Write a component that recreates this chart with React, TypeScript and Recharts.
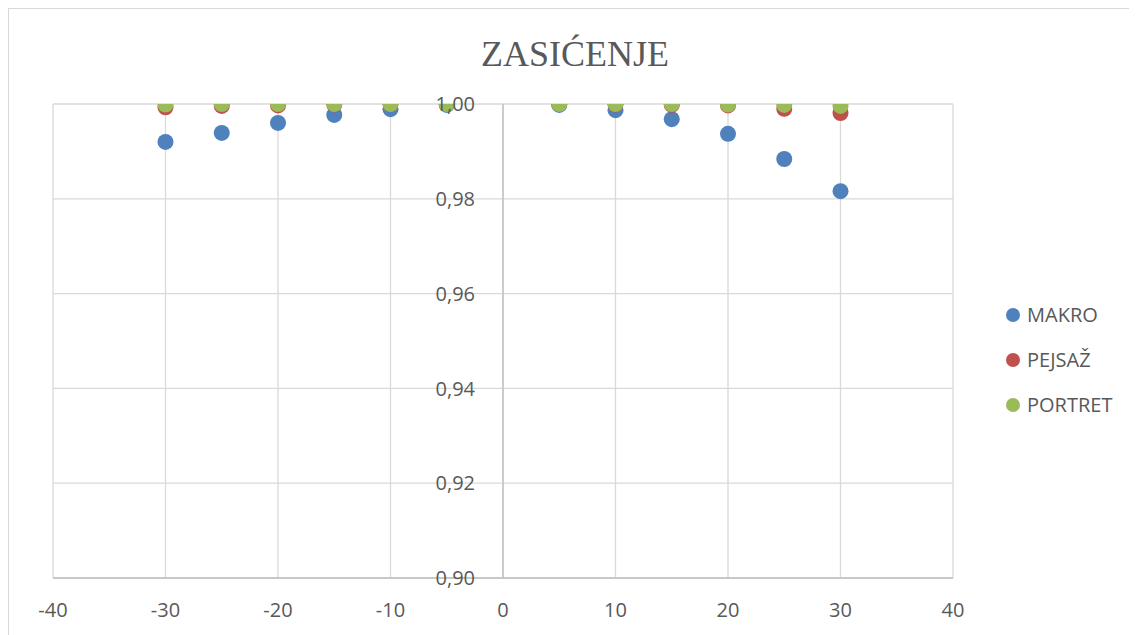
import { ScatterChart, Scatter, XAxis, YAxis, CartesianGrid, ReferenceLine } from "recharts";

const xValues = [-30, -25, -20, -15, -10, -5, 5, 10, 15, 20, 25, 30];
const makro = [0.992, 0.9939, 0.996, 0.9977, 0.9989, 0.9998, 0.9998, 0.9987, 0.9968, 0.9937, 0.9884, 0.9816];
const pejsaz = [0.9993, 0.9996, 0.9997, 0.9999, 1.0, 1.0, 1.0, 0.9999, 0.9998, 0.9997, 0.999, 0.9981];
const portret = [0.9999, 1.0, 1.0, 1.0, 1.0, 1.0, 1.0, 1.0, 1.0, 0.9999, 0.9998, 0.9996];
const xTicks = [-40, -30, -20, -10, 0, 10, 20, 30, 40];
const yTicks = [0.9, 0.92, 0.94, 0.96, 0.98, 1.0];

const series = [
  { name: "MAKRO", values: makro, color: "#4f81bd" },
  { name: "PEJSAŽ", values: pejsaz, color: "#c0504d" },
  { name: "PORTRET", values: portret, color: "#9bbb59" },
];

const FONT = "'Open Sans', sans-serif";
const TEXT = "#595959";
const PLOT_W = 900;

function YTick(props: any) {
  const { x, y, payload } = props;
  return (
    <text x={x + PLOT_W / 2 - 20} y={y} dy="0.36em" textAnchor="end" fontSize={20} fill={TEXT} fontFamily={FONT}>
      {payload.value.toFixed(2).replace(".", ",")}
    </text>
  );
}

function Dot(props: any) {
  const { cx, cy, fill } = props;
  return <circle cx={cx} cy={cy} r={8} fill={fill} />;
}

// legend kept outside the chart so Recharts doesn't reserve space for it
function ChartLegend() {
  return (
    <div style={{ position: "absolute", left: 997, top: 283, fontFamily: FONT, fontSize: 20, color: TEXT }}>
      {series.map((s) => (
        <div key={s.name} style={{ display: "flex", alignItems: "center", height: 45 }}>
          <span style={{ width: 14, height: 14, borderRadius: 7, background: s.color, marginRight: 7, display: "inline-block" }} />
          {s.name}
        </div>
      ))}
    </div>
  );
}

export default function App() {
  return (
    <div style={{ position: "relative", width: 1120, height: 640, border: "1px solid #d9d9d9", background: "#fff" }}>
      <div style={{ position: "absolute", left: 0, width: 1132, top: 24, textAlign: "center", fontFamily: "'Liberation Serif', 'Times New Roman', serif", fontSize: 36, color: TEXT }}>
        ZASIĆENJE
      </div>
      <ScatterChart width={1120} height={626} margin={{ top: 95, right: 176, bottom: 17, left: 43 }}>
        <CartesianGrid stroke="#d9d9d9" strokeWidth={1.3} />
        <XAxis
          type="number"
          dataKey="x"
          domain={[-40, 40]}
          ticks={xTicks}
          tickLine={false}
          tickSize={0}
          tickMargin={25}
          height={40}
          stroke="#bfbfbf"
          strokeWidth={1.5}
          tick={{ fontSize: 20, fill: TEXT, fontFamily: FONT }}
        />
        <YAxis
          type="number"
          dataKey="y"
          domain={[0.9, 1.0]}
          ticks={yTicks}
          width={1}
          axisLine={false}
          tickLine={false}
          tick={<YTick />}
          allowDataOverflow
        />
        <ReferenceLine x={0} stroke="#bfbfbf" strokeWidth={1.3} />
        {series.map((s) => (
          <Scatter
            key={s.name}
            name={s.name}
            data={xValues.map((x, i) => ({ x, y: s.values[i] }))}
            fill={s.color}
            shape={<Dot />}
            isAnimationActive={false}
          />
        ))}
      </ScatterChart>
      <ChartLegend />
    </div>
  );
}
